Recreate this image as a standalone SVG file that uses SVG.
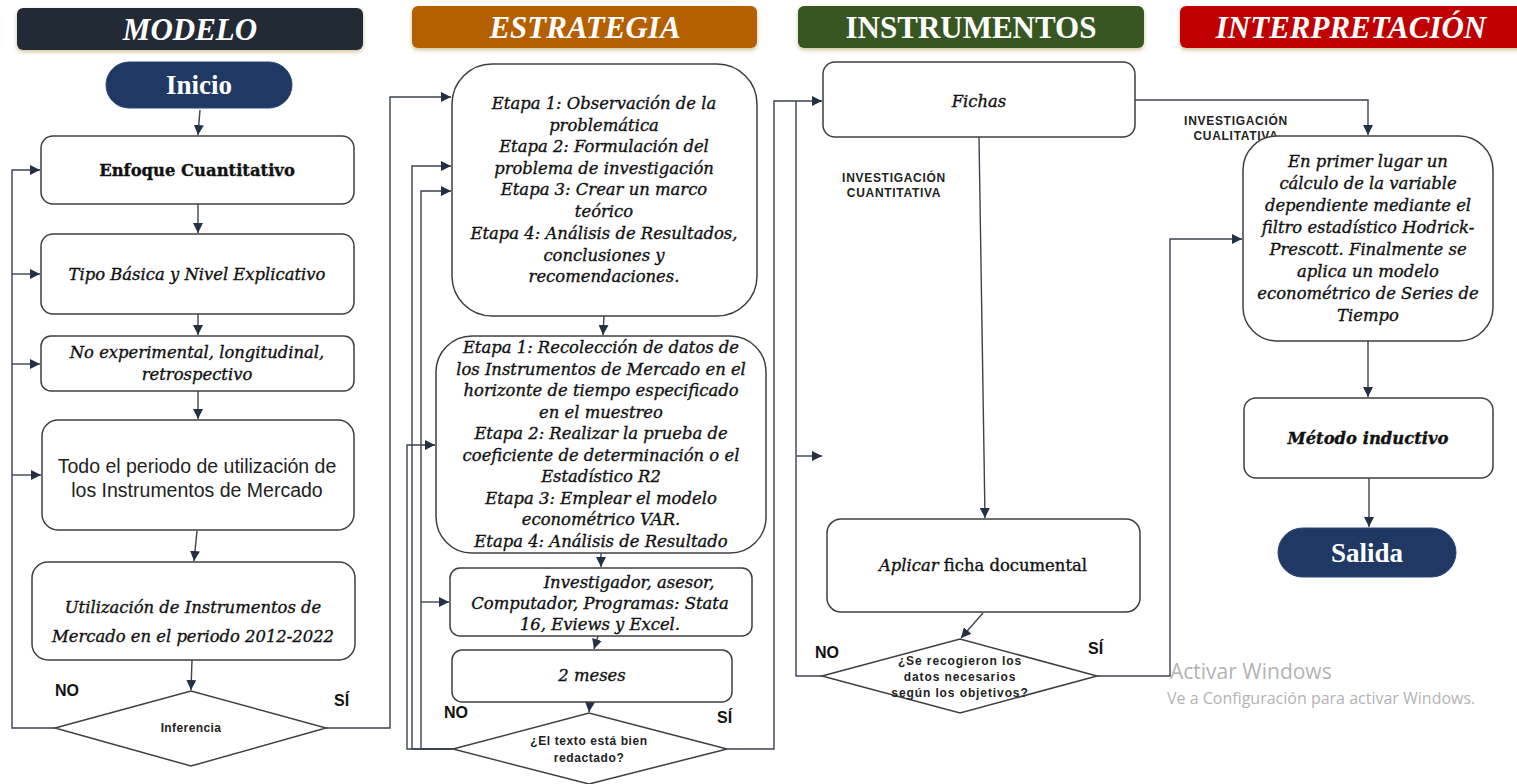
<svg xmlns="http://www.w3.org/2000/svg" width="1517" height="784" viewBox="0 0 1517 784">
<style>
.hdr{font-family:"Liberation Serif","DejaVu Serif",serif;font-weight:bold;font-size:31px;fill:#fff;text-anchor:middle}
.it{font-style:italic}
.box{fill:#fff;stroke:#3f3f3f;stroke-width:1.5}
.pill{fill:#1f3864;stroke:#2a4478;stroke-width:1}
.pt{font-family:"Liberation Serif","DejaVu Serif",serif;font-weight:bold;font-size:27px;fill:#fff;text-anchor:middle}
.t{font-family:"DejaVu Serif","Liberation Serif",serif;font-size:16.4px;fill:#111;stroke:#111;stroke-width:0.35;text-anchor:middle}
.ts{font-family:"Liberation Sans",Arial,sans-serif;font-size:19.5px;fill:#222;text-anchor:middle}
.lb{font-family:"Liberation Sans",Arial,sans-serif;font-weight:bold;font-size:16px;fill:#111}
.dl{font-family:"Liberation Sans",Arial,sans-serif;font-weight:bold;font-size:12px;fill:#222;text-anchor:middle}
.cn{fill:none;stroke:#3b4251;stroke-width:1.4}
.wm{font-family:"Open Sans","Liberation Sans",sans-serif;fill:#b3b3b3}
</style>
<defs>
<marker id="ah" viewBox="0 0 10 10" refX="10" refY="5" markerWidth="10" markerHeight="10" markerUnits="userSpaceOnUse" orient="auto">
<path d="M0,0 L10,5 L0,10 z" fill="#253043"/>
</marker>
<filter id="sh" x="-5%" y="-20%" width="110%" height="160%">
<feDropShadow dx="0" dy="2" stdDeviation="2" flood-color="#b8a66c" flood-opacity="0.7"/>
</filter>
</defs>
<rect width="1517" height="784" fill="#fff"/>

<g id="headers">
<g id="h-modelo"><rect x="17" y="8" width="346" height="42" rx="6" fill="#222a36" filter="url(#sh)"/><text class="hdr it" x="190" y="40">MODELO</text></g>
<g id="h-estrategia"><rect x="412" y="6" width="345" height="42" rx="6" fill="#b45f06" filter="url(#sh)"/><text class="hdr it" x="585" y="38">ESTRATEGIA</text></g>
<g id="h-instrumentos"><rect x="798" y="6" width="346" height="42" rx="6" fill="#375623" filter="url(#sh)"/><text class="hdr" x="971" y="38">INSTRUMENTOS</text></g>
<g id="h-interpretacion"><rect x="1180" y="6" width="345" height="42" rx="6" fill="#c00000" filter="url(#sh)"/><text class="hdr it" x="1351" y="38" font-size="33">INTERPRETACIÓN</text></g>
</g>

<g id="connectors">
<path class="cn" d="M200,110 L198,135" marker-end="url(#ah)"/>
<path class="cn" d="M198,204 V233" marker-end="url(#ah)"/>
<path class="cn" d="M198,314 V335" marker-end="url(#ah)"/>
<path class="cn" d="M198,391 V419" marker-end="url(#ah)"/>
<path class="cn" d="M197,531 L194,561" marker-end="url(#ah)"/>
<path class="cn" d="M192,660 L191,690" marker-end="url(#ah)"/>
<path class="cn" d="M55,728 H12 V170 H40" marker-end="url(#ah)"/>
<path class="cn" d="M12,274 H40" marker-end="url(#ah)"/>
<path class="cn" d="M12,364 H40" marker-end="url(#ah)"/>
<path class="cn" d="M12,475 H41" marker-end="url(#ah)"/>
<path class="cn" d="M326,728 H390 V97 H451" marker-end="url(#ah)"/>
<path class="cn" d="M604,316 L603,335" marker-end="url(#ah)"/>
<path class="cn" d="M601,553 V567" marker-end="url(#ah)"/>
<path class="cn" d="M598,636 L594,649" marker-end="url(#ah)"/>
<path class="cn" d="M590,702 L589,712" marker-end="url(#ah)"/>
<path class="cn" d="M453,749 H407 V445 H435" marker-end="url(#ah)"/>
<path class="cn" d="M453,749 H412 V166 H451" marker-end="url(#ah)"/>
<path class="cn" d="M453,749 H421 V191 H451" marker-end="url(#ah)"/>
<path class="cn" d="M421,602 H449" marker-end="url(#ah)"/>
<path class="cn" d="M727,749 H774 V101 H822" marker-end="url(#ah)"/>
<path class="cn" d="M822,676 H796 V101"/>
<path class="cn" d="M796,456 H822" marker-end="url(#ah)"/>
<path class="cn" d="M979,137 L985,518" marker-end="url(#ah)"/>
<path class="cn" d="M983,613 L961,638" marker-end="url(#ah)"/>
<path class="cn" d="M1097,676 H1170 V239 H1242" marker-end="url(#ah)"/>
<path class="cn" d="M1135,100 H1368 V135" marker-end="url(#ah)"/>
<path class="cn" d="M1368,341 V397" marker-end="url(#ah)"/>
<path class="cn" d="M1369,478 V527" marker-end="url(#ah)"/>
</g>

<g id="inicio"><rect class="pill" x="106" y="62" width="186" height="46" rx="23"/><text class="pt" x="199" y="94">Inicio</text></g>
<g id="enfoque"><rect class="box" x="41" y="136" width="313" height="68" rx="12"/><text class="t" x="197" y="176" font-weight="bold" font-size="17.2" stroke-width="0">Enfoque Cuantitativo</text></g>
<g id="tipo"><rect class="box" x="41" y="234" width="313" height="80" rx="12"/><text class="t it" x="197" y="280" font-size="17.5">Tipo Básica y Nivel Explicativo</text></g>
<g id="noexp"><rect class="box" x="41" y="336" width="313" height="55" rx="10"/><text class="t it" x="197" y="358" font-size="17.3">No experimental, longitudinal,<tspan x="197" dy="22">retrospectivo</tspan></text></g>
<g id="todo"><rect class="box" x="42" y="420" width="312" height="110" rx="16"/><text class="ts" x="197" y="473">Todo el periodo de utilización de<tspan x="197" dy="24">los Instrumentos de Mercado</tspan></text></g>
<g id="utilizacion"><rect class="box" x="32" y="562" width="323" height="98" rx="16"/><text class="t it" x="193" y="613" font-size="18.2">Utilización de Instrumentos de<tspan x="193" dy="29">Mercado en el periodo 2012-2022</tspan></text></g>
<g id="inferencia"><polygon class="box" points="55,728 191,691 326,728 191,766"/><text class="dl" x="191" y="732" letter-spacing="0.4">Inferencia</text></g>
<g id="labels-modelo"><text class="lb" x="55" y="696">NO</text><text class="lb" x="334" y="706">SÍ</text></g>

<g id="etapas1"><rect class="box" x="452" y="64" width="305" height="252" rx="40"/>
<text class="t it" x="604" y="109">Etapa 1: Observación de la<tspan x="604" dy="21.5">problemática</tspan><tspan x="604" dy="21.5">Etapa 2: Formulación del</tspan><tspan x="604" dy="21.5">problema de investigación</tspan><tspan x="604" dy="21.5">Etapa 3:  Crear un marco</tspan><tspan x="604" dy="21.5">teórico</tspan><tspan x="604" dy="22.5">Etapa 4: Análisis de Resultados,</tspan><tspan x="604" dy="21.5">conclusiones y</tspan><tspan x="604" dy="21.5">recomendaciones.</tspan></text></g>
<g id="etapas2"><rect class="box" x="436" y="336" width="330" height="217" rx="36"/>
<text class="t it" x="601" y="353">Etapa 1: Recolección de datos de<tspan x="601" dy="21.5">los Instrumentos de Mercado en el</tspan><tspan x="601" dy="21.5">horizonte de tiempo especificado</tspan><tspan x="601" dy="21.5">en el muestreo</tspan><tspan x="601" dy="21.5">Etapa 2: Realizar la prueba de</tspan><tspan x="601" dy="21.5">coeficiente de determinación o el</tspan><tspan x="601" dy="21.5">Estadístico R2</tspan><tspan x="601" dy="21.5">Etapa 3: Emplear el modelo</tspan><tspan x="601" dy="21.5">econométrico VAR.</tspan><tspan x="601" dy="21.5">Etapa 4: Análisis de Resultado</tspan></text></g>
<g id="recursos"><rect class="box" x="450" y="568" width="302" height="68" rx="10"/>
<text class="t it" x="629" y="588" font-size="16.8">Investigador, asesor,<tspan x="600" dy="21">Computador, Programas: Stata</tspan><tspan x="600" dy="21">16, Eviews y Excel.</tspan></text></g>
<g id="meses"><rect class="box" x="452" y="650" width="280" height="52" rx="10"/><text class="t it" x="592" y="681" font-size="17">2 meses</text></g>
<g id="texto"><polygon class="box" points="453,749 589,713 727,749 589,784"/><text class="dl" x="589" y="745" letter-spacing="0.6">¿El texto está bien<tspan x="589" dy="17">redactado?</tspan></text></g>
<g id="labels-estrategia"><text class="lb" x="444" y="718">NO</text><text class="lb" x="717" y="723">SÍ</text></g>

<g id="fichas"><rect class="box" x="823" y="62" width="312" height="75" rx="12"/><text class="t it" x="979" y="107" font-size="18.7">Fichas</text></g>
<g id="cuant-label"><text class="dl" x="894" y="182" letter-spacing="0.7">INVESTIGACIÓN<tspan x="894" dy="15">CUANTITATIVA</tspan></text></g>
<g id="aplicar"><rect class="box" x="827" y="519" width="313" height="93" rx="14"/><text class="t" x="983" y="571" font-size="19"><tspan font-style="italic">Aplicar</tspan> ficha documental</text></g>
<g id="recogieron"><polygon class="box" points="822,676 960,639 1097,676 960,713"/><text class="dl" x="960" y="665" letter-spacing="0.9">¿Se recogieron los<tspan x="960" dy="16">datos necesarios</tspan><tspan x="960" dy="16">según los objetivos?</tspan></text></g>
<g id="labels-instrumentos"><text class="lb" x="815" y="658">NO</text><text class="lb" x="1088" y="654">SÍ</text></g>

<g id="cual-label"><text class="dl" x="1236" y="125" letter-spacing="0.7">INVESTIGACIÓN<tspan x="1236" dy="15">CUALITATIVA</tspan></text></g>
<g id="interp"><rect class="box" x="1243" y="136" width="250" height="205" rx="34"/>
<text class="t it" x="1368" y="167" font-size="15.1">En primer lugar un<tspan x="1368" dy="22">cálculo de la variable</tspan><tspan x="1368" dy="22">dependiente mediante el</tspan><tspan x="1368" dy="22">filtro estadístico Hodrick-</tspan><tspan x="1368" dy="22">Prescott. Finalmente se</tspan><tspan x="1368" dy="22">aplica un modelo</tspan><tspan x="1368" dy="22">econométrico de Series de</tspan><tspan x="1368" dy="22">Tiempo</tspan></text></g>
<g id="metodo"><rect class="box" x="1244" y="398" width="249" height="80" rx="12"/><text class="t it" x="1368" y="444" font-weight="bold" font-size="16" stroke-width="0">Método inductivo</text></g>
<g id="salida"><rect class="pill" x="1278" y="528" width="178" height="49" rx="24.5"/><text class="pt" x="1367" y="562">Salida</text></g>

<g id="watermark"><text class="wm" x="1170" y="679" font-size="21">Activar Windows</text><text class="wm" x="1167" y="704" font-size="16">Ve a Configuración para activar Windows.</text></g>
</svg>
